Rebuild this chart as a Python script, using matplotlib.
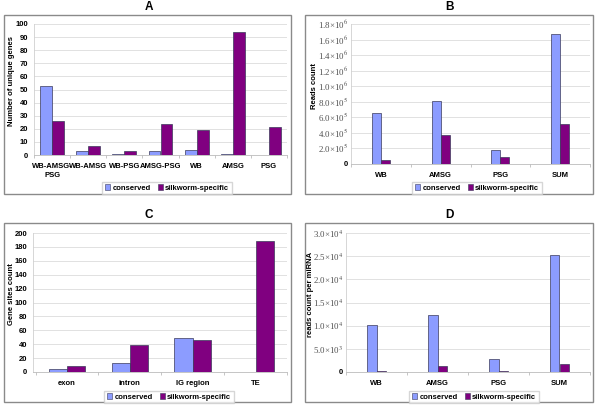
import numpy as np
import matplotlib
matplotlib.use("Agg")
import matplotlib.pyplot as plt
from matplotlib.patches import Rectangle, Patch

plt.rcParams["font.family"] = ["Liberation Sans", "DejaVu Sans"]
plt.rcParams["mathtext.fontset"] = "stix"

# ── data ──────────────────────────────────────────────────────────────────────
a_cats = ["WB-AMSG-\nPSG", "WB-AMSG", "WB-PSG", "AMSG-PSG", "WB", "AMSG", "PSG"]
a_cons = [53, 3, 1, 3, 4, 1, 0]
a_silk = [26, 7, 3, 24, 19, 94, 21]

b_cats = ["WB", "AMSG", "PSG", "SUM"]
b_cons = [6.6e5, 8.1e5, 1.85e5, 1.67e6]
b_silk = [5.5e4, 3.7e5, 8.5e4, 5.1e5]

c_cats = ["exon", "intron", "IG region", "TE"]
c_cons = [4, 13, 49, 0]
c_silk = [8, 39, 46, 189]

d_cats = ["WB", "AMSG", "PSG", "SUM"]
d_cons = [1.02e4, 1.24e4, 2.8e3, 2.53e4]
d_silk = [150, 1.4e3, 250, 1.8e3]

CONS = "#8C9CFF"
SILK = "#800080"
EDGE = "#3A3A5A"

W, H = 600, 407
fig = plt.figure(figsize=(W / 100, H / 100), dpi=100)


def fx(px):
    return px / W


def fy(py):
    return 1 - py / H


def box(x0, y0, x1, y1):
    fig.patches.append(Rectangle((fx(x0), fy(y1)), fx(x1 - x0), (y1 - y0) / H,
                                 transform=fig.transFigure, fill=False,
                                 edgecolor="#8a8a8a", linewidth=1.0))


def sci_label(v):
    e = int(np.floor(np.log10(v)))
    return f"{v / 10 ** e:.1f}×10$^{{{e}}}$"


def panel(rect, cats, cons, silk, xlim, ylim, yticks, yticklabels, bw,
          ylabel, ylabel_x, title, title_xy, legend_xy, sci=False):
    x0, y0, x1, y1 = rect
    ax = fig.add_axes([fx(x0), fy(y1), fx(x1 - x0), (y1 - y0) / H])
    x = np.arange(len(cats))
    ax.bar(x - bw / 2, cons, bw, color=CONS, edgecolor=EDGE, linewidth=0.5, zorder=3)
    ax.bar(x + bw / 2, silk, bw, color=SILK, edgecolor=EDGE, linewidth=0.5, zorder=3)
    ax.set_xlim(*xlim)
    ax.set_ylim(*ylim)
    ax.set_yticks(yticks)
    ax.set_yticklabels(yticklabels)
    for lab in ax.get_yticklabels():
        if sci and lab.get_text() != "0":
            lab.set_fontfamily(["Liberation Serif"])
            lab.set_fontweight("normal")
            lab.set_color("#505050")
            lab.set_fontsize(6.4)
        else:
            lab.set_fontweight("bold")
            lab.set_fontsize(5.5)
    ax.set_xticks(x)
    ax.set_xticklabels(cats, fontsize=5.5, fontweight="bold", linespacing=1.3)
    ax.set_xticks(np.arange(len(cats) + 1) - 0.5, minor=True)
    ax.tick_params(axis="x", which="major", length=0, pad=6)
    ax.tick_params(axis="x", which="minor", length=2, color="#bbbbbb", width=0.6)
    ax.tick_params(axis="y", length=0, pad=2 if sci else 4)
    ax.grid(axis="y", color="#dcdcdc", linewidth=0.6, zorder=0)
    for s in ["top", "right"]:
        ax.spines[s].set_visible(False)
    ax.spines["left"].set_color("#d0d0d0")
    ax.spines["left"].set_linewidth(0.6)
    ax.spines["bottom"].set_color("#bbbbbb")
    ax.spines["bottom"].set_linewidth(0.6)
    fig.text(fx(ylabel_x), fy((y0 + y1) / 2 - 8), ylabel, rotation=90,
             ha="center", va="center", fontsize=5.5, fontweight="bold")
    fig.text(fx(title_xy[0]), fy(title_xy[1]), title, ha="center", va="center",
             fontsize=8.5, fontweight="bold")
    handles = [Patch(facecolor=CONS, edgecolor=EDGE, linewidth=0.4, label="conserved"),
               Patch(facecolor=SILK, edgecolor=EDGE, linewidth=0.4, label="silkworm-specific")]
    fig.legend(handles=handles, loc="center", ncol=2,
               bbox_to_anchor=(fx(legend_xy[0]), fy(legend_xy[1])),
               prop={"size": 5.5, "weight": "bold"}, frameon=True, fancybox=False,
               edgecolor="#cccccc", handlelength=0.7, handleheight=0.7,
               handletextpad=0.3, columnspacing=0.9, borderpad=0.3, borderaxespad=0)
    return ax


# ── outer boxes ───────────────────────────────────────────────────────────────
box(4, 15, 291, 194)
box(305, 15, 593, 194)
box(4, 223, 291, 402)
box(305, 223, 593, 402)

# ── A ─────────────────────────────────────────────────────────────────────────
panel((34, 24, 287, 155), a_cats, a_cons, a_silk,
      xlim=(-0.49, 6.44), ylim=(0, 100), yticks=range(0, 101, 10),
      yticklabels=[str(v) for v in range(0, 101, 10)], bw=0.33,
      ylabel="Number of unique genes", ylabel_x=12, title="A",
      title_xy=(149, 7), legend_xy=(167, 188))

# ── B ─────────────────────────────────────────────────────────────────────────
b_ticks = np.arange(0, 1.81e6, 2e5)
b_labels = ["0"] + [sci_label(v) for v in b_ticks[1:]]
panel((351, 24, 590, 164), b_cats, b_cons, b_silk,
      xlim=(-0.263, 3.25), ylim=(0, 1.8e6), yticks=b_ticks, yticklabels=b_labels,
      bw=0.15, ylabel="Reads count", ylabel_x=314, title="B",
      title_xy=(449, 7), legend_xy=(477, 188), sci=True)

# ── C ─────────────────────────────────────────────────────────────────────────
panel((33, 233, 287, 372), c_cats, c_cons, c_silk,
      xlim=(-0.54, 3.48), ylim=(0, 200), yticks=range(0, 201, 20),
      yticklabels=[str(v) for v in range(0, 201, 20)], bw=0.29,
      ylabel="Gene sites count", ylabel_x=12, title="C",
      title_xy=(149, 215), legend_xy=(169, 397))

# ── D ─────────────────────────────────────────────────────────────────────────
d_ticks = np.arange(0, 3.01e4, 5e3)
d_labels = ["0"] + [sci_label(v) for v in d_ticks[1:]]
panel((346, 233, 590, 372), d_cats, d_cons, d_silk,
      xlim=(-0.24, 3.26), ylim=(0, 3e4), yticks=d_ticks, yticklabels=d_labels,
      bw=0.15, ylabel="reads count per miRNA", ylabel_x=310, title="D",
      title_xy=(449, 215), legend_xy=(474, 397), sci=True)

fig.savefig("out.png", dpi=100)
